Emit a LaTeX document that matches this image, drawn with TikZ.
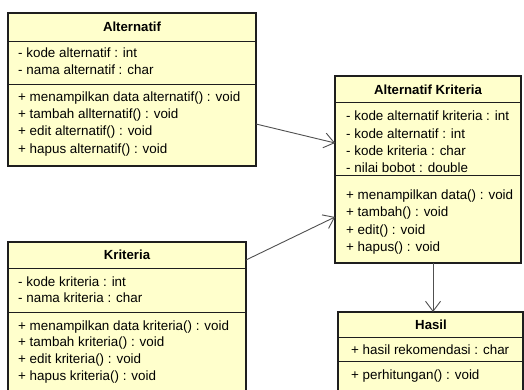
\documentclass[tikz,border=0pt]{standalone}
\usepackage{fontspec}
\setmainfont{Liberation Sans}
\usetikzlibrary{arrows.meta}
\definecolor{classfill}{HTML}{FFFFCC}
\definecolor{edgecol}{HTML}{1E1E1E}
\definecolor{assoccol}{HTML}{505050}
\tikzset{
  classbox/.style={draw=edgecol, fill=classfill, line width=1.3pt, inner sep=0pt, outer sep=0pt, anchor=north west},
  sepline/.style={draw=edgecol, line width=1pt},
  title/.style={font=\fontsize{13.2}{15}\selectfont\bfseries, inner sep=0pt},
  member/.style={font=\fontsize{13.4}{15}\selectfont, inner sep=0pt, anchor=mid west},
  assoc/.style={draw=assoccol, line width=0.9pt, -{Straight Barb[length=10pt,width=15pt]}}
}
\begin{document}
\begin{tikzpicture}[x=1pt,y=1pt]
\clip (0,0) rectangle (524,390);
\fill[white] (0,0) rectangle (524,390);

% Alternatif
\node[classbox, minimum width=248pt, minimum height=153pt] (alt) at (8,377) {};
\draw[sepline] (alt.west |- 0,348) -- (alt.east |- 0,348);
\draw[sepline] (alt.west |- 0,305) -- (alt.east |- 0,305);
\node[title] (altT) at (132,363) {Alternatif};
\node[member] (alt1) at (18,335) {- kode alternatif : int};
\node[member] (alt2) at (18,318) {- nama alternatif : char};
\node[member] (alt3) at (18,291) {+ menampilkan data alternatif() : void};
\node[member] (alt4) at (18,274) {+ tambah allternatif() : void};
\node[member] (alt5) at (18,257) {+ edit alternatif() : void};
\node[member] (alt6) at (18,239) {+ hapus alternatif() : void};

% Kriteria
\node[classbox, minimum width=238pt, minimum height=170pt] (kri) at (8,148) {};
\draw[sepline] (kri.west |- 0,121) -- (kri.east |- 0,121);
\draw[sepline] (kri.west |- 0,77) -- (kri.east |- 0,77);
\node[title] (kriT) at (127,135) {Kriteria};
\node[member] (kri1) at (18,106) {- kode kriteria : int};
\node[member] (kri2) at (18,90) {- nama kriteria : char};
\node[member] (kri3) at (18,62) {+ menampilkan data kriteria() : void};
\node[member] (kri4) at (18,46) {+ tambah kriteria() : void};
\node[member] (kri5) at (18,29) {+ edit kriteria() : void};
\node[member] (kri6) at (18,12) {+ hapus kriteria() : void};

% Alternatif Kriteria
\node[classbox, minimum width=186pt, minimum height=187pt] (ak) at (335,314) {};
\draw[sepline] (ak.west |- 0,287) -- (ak.east |- 0,287);
\draw[sepline] (ak.west |- 0,214) -- (ak.east |- 0,214);
\node[title] (akT) at (428,300) {Alternatif Kriteria};
\node[member] (ak1) at (346,272) {- kode alternatif kriteria : int};
\node[member] (ak2) at (346,254) {- kode alternatif : int};
\node[member] (ak3) at (346,237) {- kode kriteria : char};
\node[member] (ak4) at (346,220) {- nilai bobot : double};
\node[member] (ak5) at (346,193) {+ menampilkan data() : void};
\node[member] (ak6) at (346,176) {+ tambah() : void};
\node[member] (ak7) at (346,158) {+ edit() : void};
\node[member] (ak8) at (346,141) {+ hapus() : void};

% Hasil
\node[classbox, minimum width=185pt, minimum height=100pt] (has) at (338,78) {};
\draw[sepline] (has.west |- 0,52) -- (has.east |- 0,52);
\draw[sepline] (has.west |- 0,28) -- (has.east |- 0,28);
\node[title] (hasT) at (431,65) {Hasil};
\node[member] (has1) at (351,38) {+ hasil rekomendasi : char};
\node[member] (has2) at (351,13) {+ perhitungan() : void};

% associations
\draw[assoc] (alt.east |- 0,266) -- (ak.west |- 0,247);
\draw[assoc] (kri.east |- 0,130) -- (ak.west |- 0,173);
\draw[assoc] (ak.south -| 433,0) -- (has.north -| 433,0);
\end{tikzpicture}
\end{document}
